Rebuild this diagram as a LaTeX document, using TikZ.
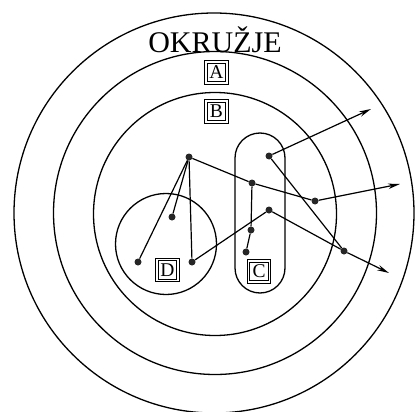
\documentclass[tikz,border=0pt]{standalone}
\usepackage{fontspec}
\setmainfont{Liberation Serif}
\usepackage{tikz}
\usetikzlibrary{arrows.meta}
\tikzstyle{ring}  = [circle, draw, line width=1.3pt, inner sep=0pt]
\tikzstyle{dot}   = [circle, fill=black!85, inner sep=0pt, minimum size=7pt]
\tikzstyle{tag}   = [rectangle, draw, double, double distance=1.3pt,
                     line width=0.9pt, inner sep=0pt, minimum size=21pt,
                     font=\fontsize{19.5}{19.5}\selectfont]
\tikzstyle{link}  = [line width=1.2pt]
\tikzstyle{arrow} = [link, -{Stealth[length=12pt, width=5.5pt]}]

\begin{document}
\begin{tikzpicture}[x=1pt, y=-1pt]
\useasboundingbox (0,0) rectangle (415,412);

\node (env)  [ring, minimum size=400pt] at (214,213) {};
\node (sysA) [ring, minimum size=323pt] at (215,213) {};
\node (sysB) [ring, minimum size=243pt] at (215,214) {};
\node (sysD) [ring, minimum size=101pt] at (166,244) {};
\node (sysC) [rectangle, draw, line width=1.3pt, rounded corners=25pt,
              minimum width=50pt, minimum height=160pt] at (260,213) {};

\node (title) [font=\fontsize{30}{30}\selectfont] at (215,40) {OKRUŽJE};
\node (tagA) [tag] at (216.5,72.5)  {A};
\node (tagB) [tag] at (216.5,111.5) {B};
\node (tagD) [tag] at (167.5,270)   {D};
\node (tagC) [tag] at (259,271.5)   {C};

\node (hub) [dot] at (189,157) {};
\node (d1)  [dot] at (172,217) {};
\node (d2)  [dot] at (138,262) {};
\node (d3)  [dot] at (192,262) {};
\node (c1)  [dot] at (252,183) {};
\node (c2)  [dot] at (269,156) {};
\node (c3)  [dot] at (269,210) {};
\node (c4)  [dot] at (251,230) {};
\node (c5)  [dot] at (246,252) {};
\node (b1)  [dot] at (315,201) {};
\node (b2)  [dot] at (344,251) {};
\coordinate (out1) at (371,109);
\coordinate (out2) at (400,184);
\coordinate (out3) at (389,273);

\draw [link] (hub) -- (d1);
\draw [link] (hub) -- (d2);
\draw [link] (hub) -- (d3);
\draw [link] (hub) -- (c1);
\draw [link] (c1)  -- (b1);
\draw [link] (c1)  -- (c4);
\draw [link] (c4)  -- (c5);
\draw [link] (d3)  -- (c3);
\draw [link] (c3)  -- (b2);
\draw [link] (c2)  -- (b2);
\draw [arrow] (c2) -- (out1);
\draw [arrow] (b1) -- (out2);
\draw [arrow] (b2) -- (out3);

\end{tikzpicture}
\end{document}
